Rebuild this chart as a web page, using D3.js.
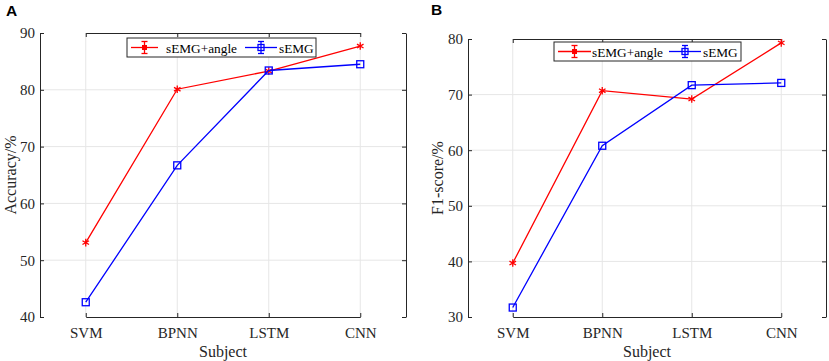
<!DOCTYPE html>
<html>
<head>
<meta charset="utf-8">
<script src="https://cdn.jsdelivr.net/npm/d3@7"></script>
<style>
  body { margin: 0; background: #fff; }
  svg { display: block; }
</style>
</head>
<body>
<svg id="chart" width="829" height="361"></svg>
<script>
// categories and series
const models = ["SVM", "BPNN", "LSTM", "CNN"];
const seriesNames = ["sEMG+angle", "sEMG"];
const accAngle = [53.1, 80.1, 83.3, 87.7];
const accEmg = [42.6, 66.7, 83.4, 84.5];
const f1Angle = [39.7, 70.7, 69.2, 79.3];
const f1Emg = [31.7, 60.8, 71.7, 72.1];
const accTicks = [40, 50, 60, 70, 80, 90];
const f1Ticks = [30, 40, 50, 60, 70, 80];

const svg = d3.select("#chart");
const FONT = "'Liberation Serif', 'Times New Roman', serif";
const colors = ["#ff0000", "#0000ff"];

function drawPanel(cfg) {
    const { left, right, top, bottom, ticks, series, yLabel, letter, legendBox } = cfg;
    const g = svg.append("g");

    const x = d3.scaleLinear().domain([0.5, 4.5]).range([left, right]);
    const y = d3.scaleLinear().domain(d3.extent(ticks)).range([bottom, top]);

    // grid
    g.selectAll("line.gx").data(models).join("line")
        .attr("x1", (d, i) => x(i + 1)).attr("x2", (d, i) => x(i + 1))
        .attr("y1", top).attr("y2", bottom)
        .attr("stroke", "#e6e6e6").attr("stroke-width", 1);
    g.selectAll("line.gy").data(ticks.slice(1, -1)).join("line")
        .attr("x1", left).attr("x2", right)
        .attr("y1", d => y(d)).attr("y2", d => y(d))
        .attr("stroke", "#e6e6e6").attr("stroke-width", 1);

    // axes (ticks pointing inward)
    const xa = d3.scaleOrdinal().domain(models).range(models.map((d, i) => x(i + 1)));
    const bottomAxis = g.append("g").attr("transform", `translate(0,${bottom})`)
        .call(d3.axisBottom(xa).tickSizeInner(-4).tickSizeOuter(0).tickPadding(10));
    const leftAxis = g.append("g").attr("transform", `translate(${left},0)`)
        .call(d3.axisLeft(y).tickValues(ticks).tickSizeInner(-4).tickSizeOuter(0).tickPadding(5).tickFormat(d3.format("d")));
    const topAxis = g.append("g").attr("transform", `translate(0,${top})`)
        .call(d3.axisTop(xa).tickSizeInner(-4).tickSizeOuter(0).tickFormat(""));
    const rightAxis = g.append("g").attr("transform", `translate(${right},0)`)
        .call(d3.axisRight(y).tickValues(ticks).tickSizeInner(-4).tickSizeOuter(0).tickFormat(""));
    [bottomAxis, leftAxis, topAxis, rightAxis].forEach(a => {
        a.select(".domain").attr("stroke", "#262626");
        a.selectAll(".tick line").attr("stroke", "#262626");
        a.selectAll("text").attr("font-family", FONT).attr("font-size", 15).attr("fill", "#262626");
    });

    // series
    const line = d3.line().x((d, i) => x(i + 1)).y(d => y(d));
    series.forEach((vals, si) => {
        g.append("path").datum(vals)
            .attr("d", line).attr("fill", "none")
            .attr("stroke", colors[si]).attr("stroke-width", 1.3);
        const m = g.selectAll(null).data(vals).join("g")
            .attr("transform", (d, i) => `translate(${x(i + 1)},${y(d)})`);
        if (si === 0) {
            m.append("path").attr("d", d3.symbol(d3.symbolAsterisk, 40)())
                .attr("stroke", colors[si]).attr("stroke-width", 1.3).attr("fill", "none");
        } else {
            m.append("rect").attr("x", -3.5).attr("y", -3.5).attr("width", 7).attr("height", 7)
                .attr("fill", "none").attr("stroke", colors[si]).attr("stroke-width", 1.3);
        }
    });

    // legend
    const lg = g.append("g");
    lg.append("rect").attr("x", legendBox.x).attr("y", legendBox.y)
        .attr("width", legendBox.w).attr("height", legendBox.h)
        .attr("fill", "#fff").attr("stroke", "#262626").attr("stroke-width", 1);
    const cy = legendBox.y + legendBox.h / 2;
    legendBox.items.forEach((it, si) => {
        const c = colors[si];
        const mid = (it.x0 + it.x1) / 2;
        lg.append("line").attr("x1", it.x0).attr("x2", it.x1).attr("y1", cy).attr("y2", cy)
            .attr("stroke", c).attr("stroke-width", 1.3);
        lg.append("line").attr("x1", mid).attr("x2", mid).attr("y1", cy - 6).attr("y2", cy + 6)
            .attr("stroke", c).attr("stroke-width", 1.3);
        [-6, 6].forEach(o => lg.append("line").attr("x1", mid - 3).attr("x2", mid + 3)
            .attr("y1", cy + o).attr("y2", cy + o).attr("stroke", c).attr("stroke-width", 1.3));
        if (si === 0) {
            lg.append("rect").attr("x", mid - 2.5).attr("y", cy - 2.5).attr("width", 5).attr("height", 5)
                .attr("fill", c);
        } else {
            lg.append("rect").attr("x", mid - 3).attr("y", cy - 3).attr("width", 6).attr("height", 6)
                .attr("fill", "none").attr("stroke", c).attr("stroke-width", 1.3);
        }
        lg.append("text").attr("x", it.tx).attr("y", cy + 5)
            .attr("font-family", FONT).attr("font-size", 13.3).attr("fill", "#000")
            .text(seriesNames[si]);
    });

    // axis titles
    g.append("text").attr("x", (left + right) / 2).attr("y", 357)
        .attr("text-anchor", "middle").attr("font-family", FONT).attr("font-size", 16)
        .attr("fill", "#262626").text("Subject");
    g.append("text")
        .attr("transform", `translate(${cfg.yLabelX},${(top + bottom) / 2}) rotate(-90)`)
        .attr("text-anchor", "middle").attr("font-family", FONT).attr("font-size", 16)
        .attr("fill", "#262626").text(yLabel);

    // panel letter
    g.append("text").attr("x", letter.x).attr("y", letter.y)
        .attr("font-family", "'Liberation Sans', Arial, sans-serif").attr("font-weight", "bold")
        .attr("font-size", 15.5).attr("fill", "#000").text(letter.t);
}

drawPanel({
    left: 40, right: 406, top: 33, bottom: 317,
    ticks: accTicks, series: [accAngle, accEmg],
    yLabel: "Accuracy/%", yLabelX: 16,
    letter: { x: 6, y: 16, t: "A" },
    legendBox: { x: 127, y: 38, w: 189, h: 19,
        items: [{ x0: 131, x1: 158, tx: 166 }, { x0: 245, x1: 277, tx: 279 }] }
});

drawPanel({
    left: 468, right: 826, top: 39, bottom: 317,
    ticks: f1Ticks, series: [f1Angle, f1Emg],
    yLabel: "F1-score/%", yLabelX: 443,
    letter: { x: 431, y: 15, t: "B" },
    legendBox: { x: 554, y: 42, w: 187, h: 19,
        items: [{ x0: 558, x1: 591, tx: 592 }, { x0: 669, x1: 701, tx: 703 }] }
});
</script>
</body>
</html>
